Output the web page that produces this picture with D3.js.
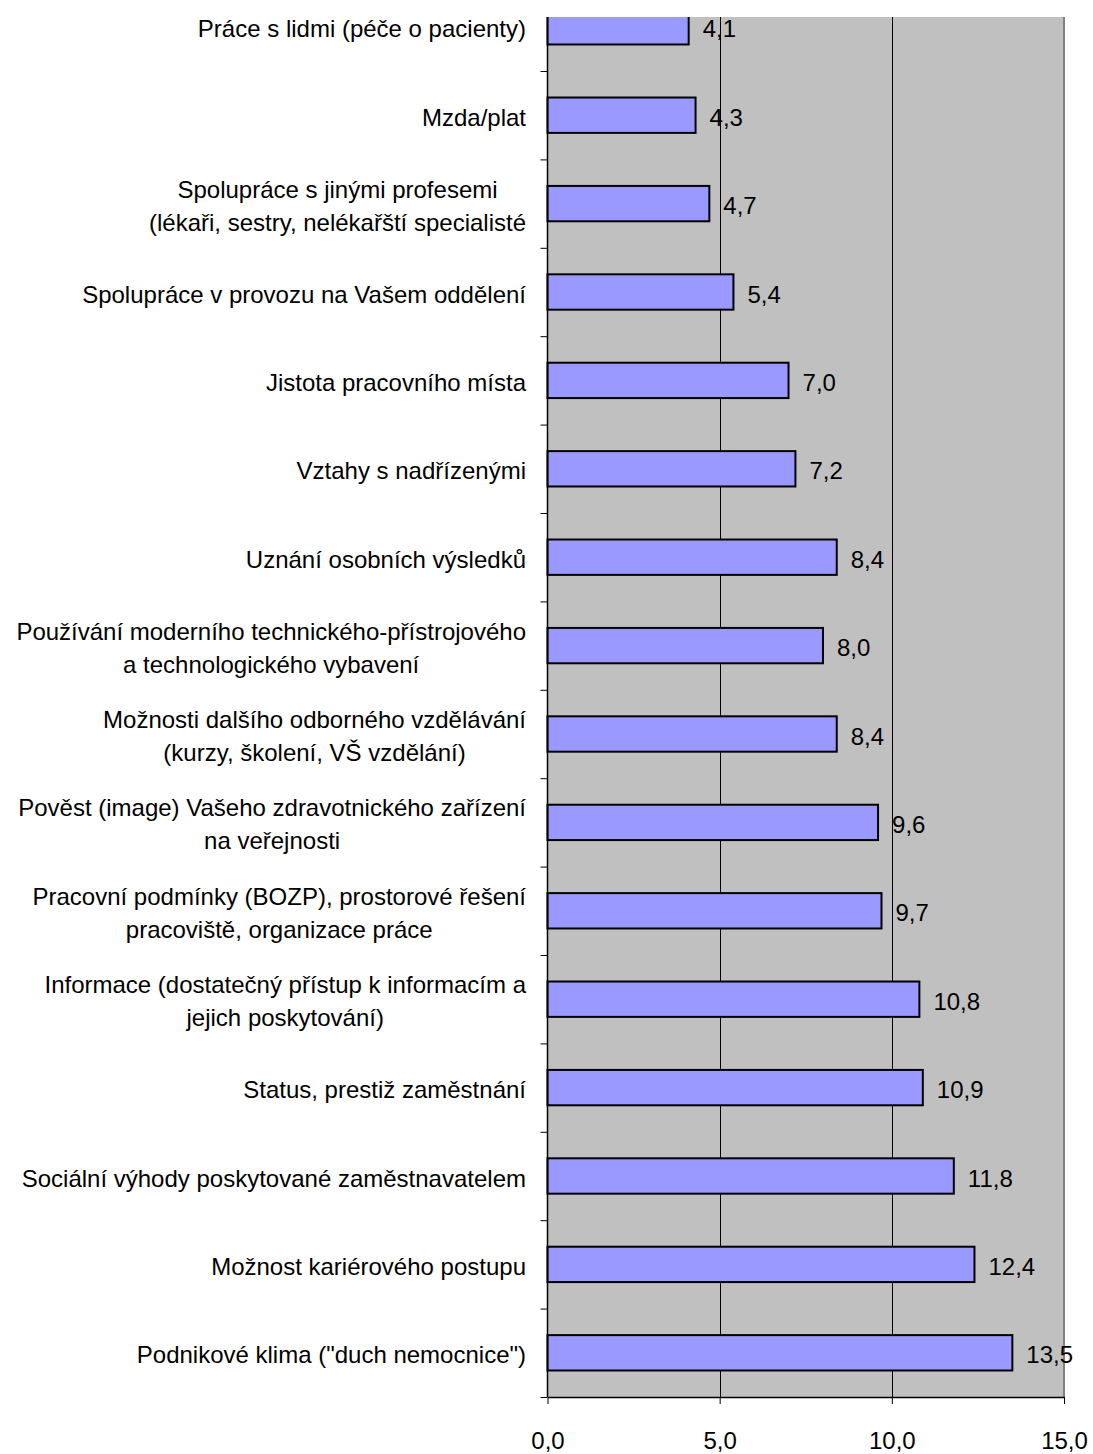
<!DOCTYPE html>
<html>
<head>
<meta charset="utf-8">
<script src="https://cdn.jsdelivr.net/npm/d3@7"></script>
<style>
  html, body { margin: 0; padding: 0; background: #fff; }
  svg { display: block; }
  text { font-family: "Liberation Sans", Arial, sans-serif; fill: #000; }
</style>
</head>
<body>
<script>
const categories = [
  "Práce s lidmi (péče o pacienty)",
  "Mzda/plat",
  "Spolupráce s jinými profesemi\n(lékaři, sestry, nelékařští specialisté",
  "Spolupráce v provozu na Vašem oddělení",
  "Jistota pracovního místa",
  "Vztahy s nadřízenými",
  "Uznání osobních výsledků",
  "Používání moderního technického-přístrojového\na technologického vybavení",
  "Možnosti dalšího odborného vzdělávání\n(kurzy, školení, VŠ vzdělání)",
  "Pověst (image) Vašeho zdravotnického zařízení\nna veřejnosti",
  "Pracovní podmínky (BOZP), prostorové řešení\npracoviště, organizace práce",
  "Informace (dostatečný přístup k informacím a\njejich poskytování)",
  "Status, prestiž zaměstnání",
  "Sociální výhody poskytované zaměstnavatelem",
  "Možnost kariérového postupu",
  "Podnikové klima (\"duch nemocnice\")"
];
const values = [4.1, 4.3, 4.7, 5.4, 7.0, 7.2, 8.4, 8.0, 8.4, 9.6, 9.7, 10.8, 10.9, 11.8, 12.4, 13.5];
const xTicks = [0, 5, 10, 15];

const W = 1093, H = 1454;
const plotLeft = 547.5, plotRight = 1064, plotBottom = 1397, plotTopFull = -17.4, visibleTop = 17;
const fontSize = 24;
const textShift = 2;
const fmt = d => d.toFixed(1).replace(".", ",");

const svg = d3.select("body").append("svg").attr("width", W).attr("height", H);

const x = d3.scaleLinear().domain([0, 15]).range([plotLeft, plotRight]);
const y = d3.scaleBand().domain(categories).range([plotTopFull, plotBottom]).paddingInner(0.6).paddingOuter(0.3);
const idx = d3.scaleLinear().domain([0, categories.length]).range([plotTopFull, plotBottom]);

svg.append("defs").append("clipPath").attr("id", "clip")
  .append("rect").attr("x", plotLeft - 10).attr("y", visibleTop).attr("width", plotRight - plotLeft + 20).attr("height", plotBottom - visibleTop + 10);

// plot background
svg.append("rect").attr("x", plotLeft).attr("y", visibleTop)
  .attr("width", plotRight - plotLeft).attr("height", plotBottom - visibleTop)
  .attr("fill", "#c0c0c0");

const plot = svg.append("g").attr("clip-path", "url(#clip)");

// gridlines
plot.selectAll("line.grid").data(xTicks.filter(d => d > 0 && d < 15)).join("line")
  .attr("class", "grid")
  .attr("x1", d => Math.round(x(d)) + 0.5).attr("x2", d => Math.round(x(d)) + 0.5)
  .attr("y1", visibleTop).attr("y2", plotBottom)
  .attr("stroke", "#000").attr("stroke-width", 1);

// right border
svg.append("line").attr("x1", plotRight).attr("x2", plotRight).attr("y1", visibleTop).attr("y2", plotBottom)
  .attr("stroke", "#808080").attr("stroke-width", 2);

// bars
plot.selectAll("rect.bar").data(categories).join("rect")
  .attr("class", "bar")
  .attr("x", x(0))
  .attr("y", d => y(d))
  .attr("width", (d, i) => x(values[i]) - x(0))
  .attr("height", y.bandwidth())
  .attr("fill", "#9999ff")
  .attr("stroke", "#000")
  .attr("stroke-width", 2);

// value labels
svg.selectAll("text.val").data(categories).join("text")
  .attr("class", "val")
  .attr("x", (d, i) => x(values[i]) + 14)
  .attr("y", d => y(d) + y.bandwidth() / 2 + textShift)
  .attr("dominant-baseline", "central")
  .attr("font-size", fontSize)
  .text((d, i) => fmt(values[i]));

// left axis
const yAxis = svg.append("g").attr("transform", `translate(${plotLeft},0)`)
  .call(d3.axisLeft(idx).tickValues(d3.range(1, categories.length + 1)).tickFormat("").tickSize(7).tickSizeOuter(0));
yAxis.select(".domain").remove();
yAxis.selectAll("line").attr("stroke", "#000");
svg.append("line").attr("x1", plotLeft).attr("x2", plotLeft).attr("y1", visibleTop).attr("y2", plotBottom)
  .attr("stroke", "#000").attr("stroke-width", 1.5);

// bottom axis
const xAxis = svg.append("g").attr("transform", `translate(0,${plotBottom})`)
  .call(d3.axisBottom(x).tickValues(xTicks).tickFormat(fmt).tickSize(7).tickPadding(28).tickSizeOuter(0));
xAxis.select(".domain").attr("stroke", "#000").attr("stroke-width", 1.5);
xAxis.selectAll("line").attr("stroke", "#000");
xAxis.selectAll("text").attr("font-size", fontSize).attr("font-family", "\"Liberation Sans\", Arial, sans-serif").attr("fill", "#000");

// category labels
const labelRight = 526, lineH = 33;
const lg = svg.append("g");
categories.forEach(c => {
  const lines = c.split("\n");
  const cy = y(c) + y.bandwidth() / 2 + textShift;
  const g = lg.append("g");
  const texts = lines.map((ln, j) => g.append("text")
    .attr("font-size", fontSize)
    .attr("dominant-baseline", "central")
    .attr("text-anchor", "middle")
    .attr("y", cy + (j - (lines.length - 1) / 2) * lineH)
    .text(ln));
  const maxW = d3.max(texts, t => t.node().getComputedTextLength());
  texts.forEach(t => t.attr("x", labelRight - maxW / 2));
});
</script>
</body>
</html>
